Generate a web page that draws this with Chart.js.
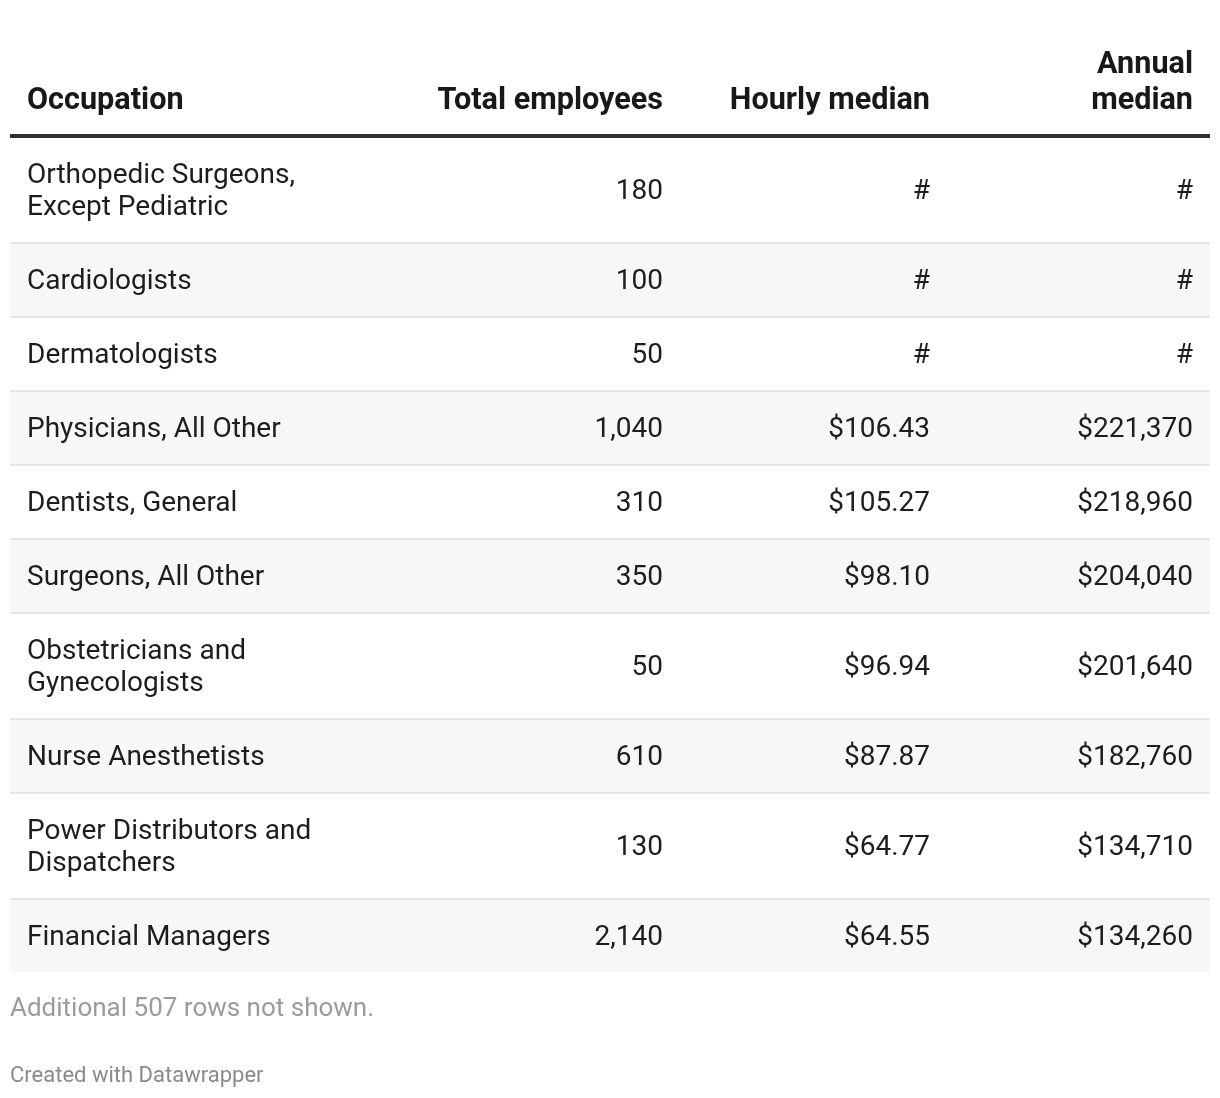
<!DOCTYPE html>
<html lang="en">
<head>
    <meta charset="UTF-8">
    <title>Occupations by median wage</title>
    <style>
        body { margin: 0; background: #ffffff; }
        #chart-container { width: 1220px; height: 1098px; }
    </style>
</head>
<body>
    <div id="chart-container">
        <canvas id="tableChart" width="1220" height="1098"></canvas>
    </div>

    <script src="https://cdn.jsdelivr.net/npm/chart.js"></script>
    <script>
        // table data
        const headers = ['Occupation', 'Total employees', 'Hourly median', 'Annual median'];
        const occupations = [
            'Orthopedic Surgeons, Except Pediatric',
            'Cardiologists',
            'Dermatologists',
            'Physicians, All Other',
            'Dentists, General',
            'Surgeons, All Other',
            'Obstetricians and Gynecologists',
            'Nurse Anesthetists',
            'Power Distributors and Dispatchers',
            'Financial Managers'
        ];
        const totalEmployees = [180, 100, 50, 1040, 310, 350, 50, 610, 130, 2140];
        // null = value not published (shown as #)
        const hourlyMedian = [null, null, null, 106.43, 105.27, 98.10, 96.94, 87.87, 64.77, 64.55];
        const annualMedian = [null, null, null, 221370, 218960, 204040, 201640, 182760, 134710, 134260];
        const hiddenRows = 507;
        const credit = 'Created with Datawrapper';

        const fmtInt = v => v.toLocaleString('en-US');
        const fmtHourly = v => v === null ? '#' : '$' + v.toFixed(2);
        const fmtAnnual = v => v === null ? '#' : '$' + v.toLocaleString('en-US');

        // layout (pixels, since both scales run 0..canvas size)
        const left = 10, right = 1210;
        const colX = [27, 663, 930, 1193];
        const colAlign = ['left', 'right', 'right', 'right'];
        const colWrap = [320, 260, 240, 180];
        const headFont = 'bold 30.6px Roboto';
        const bodyFont = '28px Roboto';
        const textColor = '#1d1d1d';

        function wrap(ctx, text, maxW) {
            const words = text.split(' ');
            const lines = [];
            let cur = '';
            words.forEach(w => {
                const t = cur ? cur + ' ' + w : w;
                if (cur && ctx.measureText(t).width > maxW) {
                    lines.push(cur);
                    cur = w;
                } else {
                    cur = t;
                }
            });
            lines.push(cur);
            return lines;
        }

        const tablePlugin = {
            id: 'tablePlugin',
            afterDraw(chart) {
                const ctx = chart.ctx;
                const xs = chart.scales.x, ys = chart.scales.y;
                const X = v => xs.getPixelForValue(v);
                const Y = v => ys.getPixelForValue(v);
                ctx.save();
                ctx.textBaseline = 'middle';

                // header
                ctx.font = headFont;
                ctx.fillStyle = '#181818';
                headers.forEach((h, c) => {
                    const lines = wrap(ctx, h, colWrap[c]);
                    ctx.textAlign = colAlign[c];
                    lines.forEach((ln, k) => {
                        ctx.fillText(ln, X(colX[c]), Y(101 - 36 * (lines.length - 1 - k)));
                    });
                });
                ctx.fillStyle = '#333333';
                ctx.fillRect(X(left), Y(134), X(right) - X(left), Y(138) - Y(134));

                // rows
                ctx.font = bodyFont;
                let top = 138;
                occupations.forEach((occ, i) => {
                    const occLines = wrap(ctx, occ, colWrap[0]);
                    const h = 74 + 32 * (occLines.length - 1);
                    const last = i === occupations.length - 1;
                    if (i % 2 === 1) {
                        ctx.fillStyle = '#f7f7f7';
                        ctx.fillRect(X(left), Y(top), X(right) - X(left), Y(top + h - 2) - Y(top));
                    }
                    if (!last) {
                        ctx.fillStyle = '#e6e6e6';
                        ctx.fillRect(X(left), Y(top + h - 2), X(right) - X(left), 2);
                    }
                    const mid = top + (h - 2) / 2 + 2;
                    ctx.fillStyle = textColor;
                    ctx.textAlign = 'left';
                    occLines.forEach((ln, k) => {
                        ctx.fillText(ln, X(colX[0]), Y(mid + 32 * (k - (occLines.length - 1) / 2)));
                    });
                    ctx.textAlign = 'right';
                    ctx.fillText(fmtInt(totalEmployees[i]), X(colX[1]), Y(mid));
                    ctx.fillText(fmtHourly(hourlyMedian[i]), X(colX[2]), Y(mid));
                    ctx.fillText(fmtAnnual(annualMedian[i]), X(colX[3]), Y(mid));
                    top += h;
                });

                // notes
                ctx.textAlign = 'left';
                ctx.font = '26px Roboto';
                ctx.fillStyle = '#9b9b9b';
                ctx.fillText('Additional ' + hiddenRows + ' rows not shown.', X(10), Y(1009));
                ctx.font = '22px Roboto';
                ctx.fillStyle = '#8a8a8a';
                ctx.fillText(credit, X(10), Y(1076));
                ctx.restore();
            }
        };

        function draw() {
            const ctx = document.getElementById('tableChart').getContext('2d');
            new Chart(ctx, {
                type: 'scatter',
                data: { datasets: [{ data: [] }] },
                options: {
                    responsive: false,
                    animation: false,
                    layout: { padding: 0 },
                    plugins: { legend: { display: false }, tooltip: { enabled: false } },
                    scales: {
                        x: { type: 'linear', min: 0, max: 1220, display: false },
                        y: { type: 'linear', min: 0, max: 1098, reverse: true, display: false }
                    }
                },
                plugins: [tablePlugin]
            });
        }

        Promise.all([
            document.fonts.load('28px Roboto'),
            document.fonts.load('bold 30.6px Roboto')
        ]).then(draw, draw);
    </script>
</body>
</html>
